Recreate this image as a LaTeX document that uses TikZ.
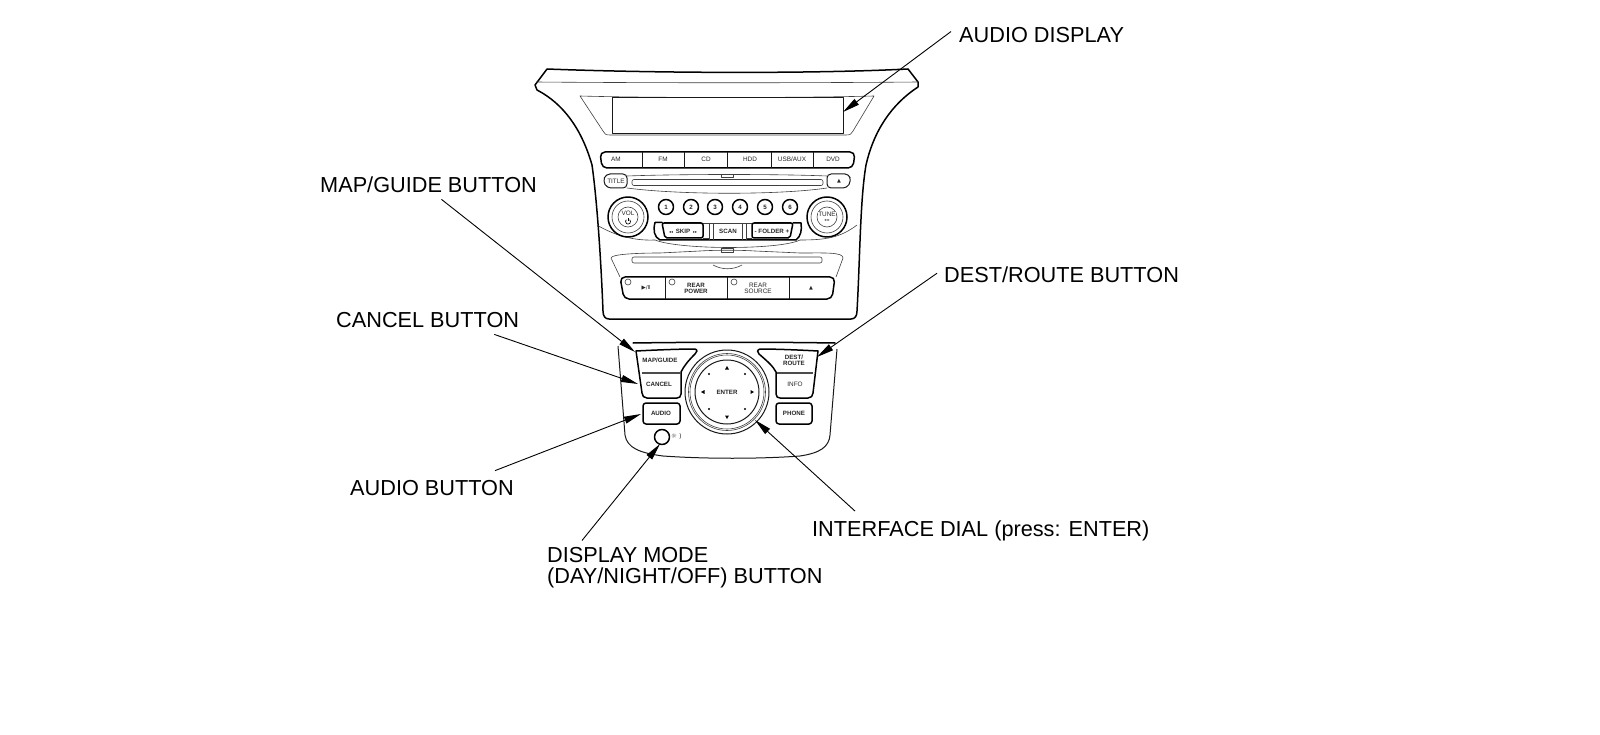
\documentclass[tikz,border=0pt]{standalone}
\usepackage{fontspec}
\setmainfont{Liberation Sans}
\newfontfamily\symfont{DejaVu Sans}
\usetikzlibrary{arrows.meta}
\tikzset{
 heavy/.style={line width=1.5pt,black,line join=round,line cap=round},
 medium/.style={line width=1pt,black!90,line join=round},
 fine/.style={line width=0.6pt,black!75,line join=round},
 callout/.style={font=\fontsize{21.7}{21}\selectfont,inner sep=0pt,text=black},
 lead/.style={line width=0.9pt,black,-{Triangle[length=17pt,width=7pt]}},
 btxt/.style={font=\fontsize{6.4}{6.2}\selectfont,inner sep=0pt,align=center,text=black!85},
 btxtb/.style={font=\fontsize{6.2}{6.2}\selectfont\bfseries,inner sep=0pt,align=center,text=black!85},
}
\begin{document}
\begin{tikzpicture}[x=1pt,y=-1pt]
\useasboundingbox (0,0) rectangle (1600,735);
\fill[white] (0,0) rectangle (1600,735);
% upper bezel
\draw[heavy] (547,69) .. controls (650,73) and (810,74) .. (908,69) -- (918,82) -- (918,87)
 .. controls (892,104) and (874,130) .. (866,165) .. controls (860,200) and (860,260) .. (857,311)
 .. controls (857,316) and (855,319) .. (851,319) -- (609,319) .. controls (605,319) and (603,316) .. (603,311)
 .. controls (601,260) and (597,200) .. (592,165) .. controls (582,130) and (564,104) .. (537,90) -- (535,85) -- cycle;
\draw[fine] (536,82) .. controls (650,83) and (810,83) .. (918,82);
% display
\draw[fine] (580,96) .. controls (650,98) and (800,98) .. (874,96) -- (853,131) .. controls (852,134) and (850,135) .. (846,135)
 -- (610,135) .. controls (606,135) and (604,134) .. (603,131) -- cycle;
\draw[medium] (612,98) rectangle (843,134);
% source row
\draw[heavy,rounded corners=5pt] (600,152) -- (855,152) -- (853,168) -- (602,168) -- cycle;
\foreach \x in {642,684,727,771,813} \draw[medium] (\x,152) -- (\x,168);
\node[btxt] (am) at (616,159.5) {AM};
\node[btxt] (fm) at (663,159.5) {FM};
\node[btxt] (cd) at (706,159.5) {CD};
\node[btxt] (hdd) at (750,159.5) {HDD};
\node[btxt] (usb) at (792,159.5) {USB/AUX};
\node[btxt] (dvd) at (833,159.5) {DVD};
% title / slot
\draw[medium,rounded corners=4pt] (627,174) -- (606,174) -- (603,181) -- (607,188) -- (627,188) -- cycle;
\node[btxt] (title) at (616,181) {TITLE};
\draw[medium,rounded corners=4pt] (827,174) -- (849,174) -- (851,181) -- (847,188) -- (827,188) -- cycle;
\node[btxt] (ej1) at (839,181) {\symfont\fontsize{5}{5}\selectfont ▲};
\draw[fine,rounded corners=2pt] (632,179.5) rectangle (823,185.5);
\draw[fine] (721,174) rectangle (733,177);
\draw[fine] (627,176) .. controls (680,174) and (780,174) .. (827,176);
\draw[fine] (627,188) .. controls (680,195) and (780,195) .. (827,188);
% knob-wide curve
\draw[fine] (597,225) .. controls (625,242) and (650,240) .. (655,240) ;
\draw[fine] (800,240) .. controls (825,240) and (840,238) .. (857,225);
\draw[fine] (655,240) .. controls (680,250) and (780,250) .. (800,240);
% knobs
\foreach \x in {628,827}{
 \fill[white] (\x,217) circle (20.5);
 \draw[heavy] (\x,217) circle (20);
 \draw[fine] (\x,217) circle (16);
 \draw[fine] (\x,217) circle (10);
}
\node[btxt,fill=white,inner sep=0.5pt] (voltxt) at (628,213.5) {VOL};
\draw[line width=0.7pt,black] (628,218.5) -- (628,221.5);
\draw[line width=0.7pt,black] (629.6,219.7) arc[start angle=-50,end angle=230,radius=2.5];
\node[btxt,fill=white,inner sep=0.5pt] (tunetxt) at (827,214.5) {TUNE};
\node[btxt,font=\symfont\fontsize{4}{4}\selectfont] (tunesub) at (827,220.5) {◂ ▸};
% presets
\foreach \x/\d in {666/1,691/2,715/3,740/4,765/5,790/6}{
 \draw[heavy] (\x,207) circle (7.5);
 \node[btxtb] (num\d) at (\x,207) {\d};
}
% skip / folder group
\draw[heavy] (662,222.5) -- (655,222.5) .. controls (653,230) and (654,237) .. (660,240) -- (796,240) .. controls (801,236) and (802,230) .. (801,223) -- (793,223);
\draw[fine] (662,223) -- (793,223);
\draw[heavy,rounded corners=2pt] (662,223) -- (703,223) -- (703,238) -- (665,238) -- cycle;
\draw[heavy,rounded corners=2pt] (752,223) -- (793,223) -- (790,238) -- (752,238) -- cycle;
\foreach \x in {709,713,742,746} \draw[fine] (\x,223) -- (\x,240);
\draw[fine] (703,238) -- (709,238) (746,238) -- (752,238);
\node[btxtb] (skip) at (683,231) {{\symfont\fontsize{4}{4}\selectfont ◂◂} \,SKIP\, {\symfont\fontsize{4}{4}\selectfont ▸▸}};
\node[btxtb] (scan) at (728,231) {SCAN};
\node[btxtb] (folder) at (772,231) {- FOLDER +};
% lower cd area
\draw[fine] (611,258) .. controls (611,254) and (640,253) .. (660,253) -- (700,251) .. controls (715,250) and (740,250) .. (755,251) -- (800,253) .. controls (825,253) and (843,252) .. (843,258) -- (836,277);
\draw[fine] (611,258) -- (620,277);
\draw[fine] (721,248) rectangle (733,252);
\draw[fine,rounded corners=2pt] (632,257) rectangle (822,263);
\draw[fine] (713,265) .. controls (722,270) and (733,270) .. (742,265);
% bottom row
\draw[heavy,rounded corners=5pt] (620,277) -- (835,277) -- (832,299) -- (624,299) -- cycle;
\foreach \x in {665,727,789} \draw[medium] (\x,277) -- (\x,299);
\foreach \x in {628,672,734} \draw[fine] (\x,282) circle (3);
\node[btxt] (play) at (646,288) {\symfont\fontsize{5.5}{6}\selectfont ▶/Ⅱ};
\node[btxtb] (power) at (696,288) {REAR\\POWER};
\node[btxt] (source) at (758,288) {REAR\\SOURCE};
\node[btxt] (ej2) at (811,288) {\symfont\fontsize{5}{5}\selectfont ▲};
% lower panel
\draw[heavy] (633,343) .. controls (700,342) and (770,342) .. (835,343);
\draw[medium] (618,346) -- (625,435) .. controls (627,448) and (640,453) .. (663,456) .. controls (705,459) and (760,459) .. (800,456) .. controls (820,453) and (829,447) .. (830,435) -- (837,349);
% map/cancel
\draw[heavy] (636,351) .. controls (655,350) and (680,349) .. (695,349) .. controls (698,350) and (697,352) .. (695,354) .. controls (688,361) and (684,366) .. (681,372) -- (681,394) .. controls (681,397) and (679,398) .. (677,398) -- (647,398) .. controls (644,398) and (642,396) .. (642,393) -- cycle;
\fill[black!70] (642,371.5) rectangle (681,374);
\node[btxtb] (mapg) at (660,360) {MAP/GUIDE};
\node[btxtb] (cancel) at (659,384) {CANCEL};
% dest/info
\draw[heavy] (818,351) .. controls (800,350) and (775,349) .. (760,349) .. controls (757,350) and (757,352) .. (759,354) .. controls (767,361) and (773,366) .. (776,372) -- (776,394) .. controls (776,397) and (778,398) .. (780,398) -- (808,398) .. controls (811,398) and (813,396) .. (813,393) -- cycle;
\fill[black!70] (777,371.5) rectangle (813,374);
\node[btxtb] (dest) at (794,360) {DEST/\\ROUTE};
\node[btxt] (info) at (795,384.5) {INFO};
% audio, phone
\draw[heavy,rounded corners=3pt] (643,403) rectangle (680,424);
\draw[heavy,rounded corners=3pt] (776,403) rectangle (812,424);
\node[btxtb] (audio) at (661,413.5) {AUDIO};
\node[btxtb] (phone) at (794,413.5) {PHONE};
% display mode knob
\draw[heavy] (662,437) circle (7.5);
\node[btxt,anchor=west] (dm) at (671,436) {\symfont\fontsize{6.5}{6}\selectfont ☼ )};
% dial
\draw[medium] (727,392) circle (42);
\draw[fine] (727,392) circle (38.5);
\draw[fine] (727,392) circle (37);
\draw[medium] (727,392) circle (32);
\node[btxtb] (enter) at (727,392.5) {ENTER};
\foreach \x/\y/\r in {727/368/0,727/417/180,703/392/90,752/392/-90}
 \fill[black,rotate around={\r:(\x,\y)}] (\x,\y-2) -- (\x+2,\y+1.5) -- (\x-2,\y+1.5) -- cycle;
\foreach \x/\y in {709/374,745/374,709/409,745/409} \fill[black] (\x,\y) circle (1.2);
% callouts
\node[callout,anchor=base west] (lbldisp) at (959,43) {AUDIO DISPLAY};
\node[callout,anchor=base west] (lblmap) at (320,193) {MAP/GUIDE BUTTON};
\node[callout,anchor=base west] (lblcancel) at (336,327) {CANCEL BUTTON};
\node[callout,anchor=base west] (lblaudio) at (350,495) {AUDIO BUTTON};
\node[callout,anchor=base west] (lbldial) at (812,536) {INTERFACE DIAL (press: ENTER)};
\node[callout,anchor=base west] (lbldest) at (944,283) {DEST/ROUTE BUTTON};
\node[callout,anchor=north west,align=left] (lblmode) at (547,547.5) {DISPLAY MODE\\(DAY/NIGHT/OFF) BUTTON};
% tips
\coordinate (tipdisp) at (843,112);
\coordinate (tipmap) at (635,352);
\coordinate (tipcancel) at (638,384);
\coordinate (tipaudio) at (641,414);
\coordinate (tipmode) at (660,444);
\coordinate (tipdial) at (755,420);
\coordinate (tipdest) at (817,357);
\draw[lead] ([xshift=-8pt,yshift=4pt]lbldisp.west) -- (tipdisp);
\draw[lead] ([xshift=13pt,yshift=-6pt]lblmap.south) -- (tipmap);
\draw[lead] ([xshift=5pt,yshift=-4pt]lblcancel.south east) ++(-30,3) -- (tipcancel);
\draw[lead] ([xshift=-19pt,yshift=9pt]lblaudio.north east) -- (tipaudio);
\draw[lead] ([xshift=35pt,yshift=7pt]lblmode.north west) -- (tipmode);
\draw[lead] ([xshift=43pt,yshift=9pt]lbldial.north west) -- (tipdial);
\draw[lead] ([xshift=-7pt,yshift=2pt]lbldest.west) -- (tipdest);
\end{tikzpicture}
\end{document}
